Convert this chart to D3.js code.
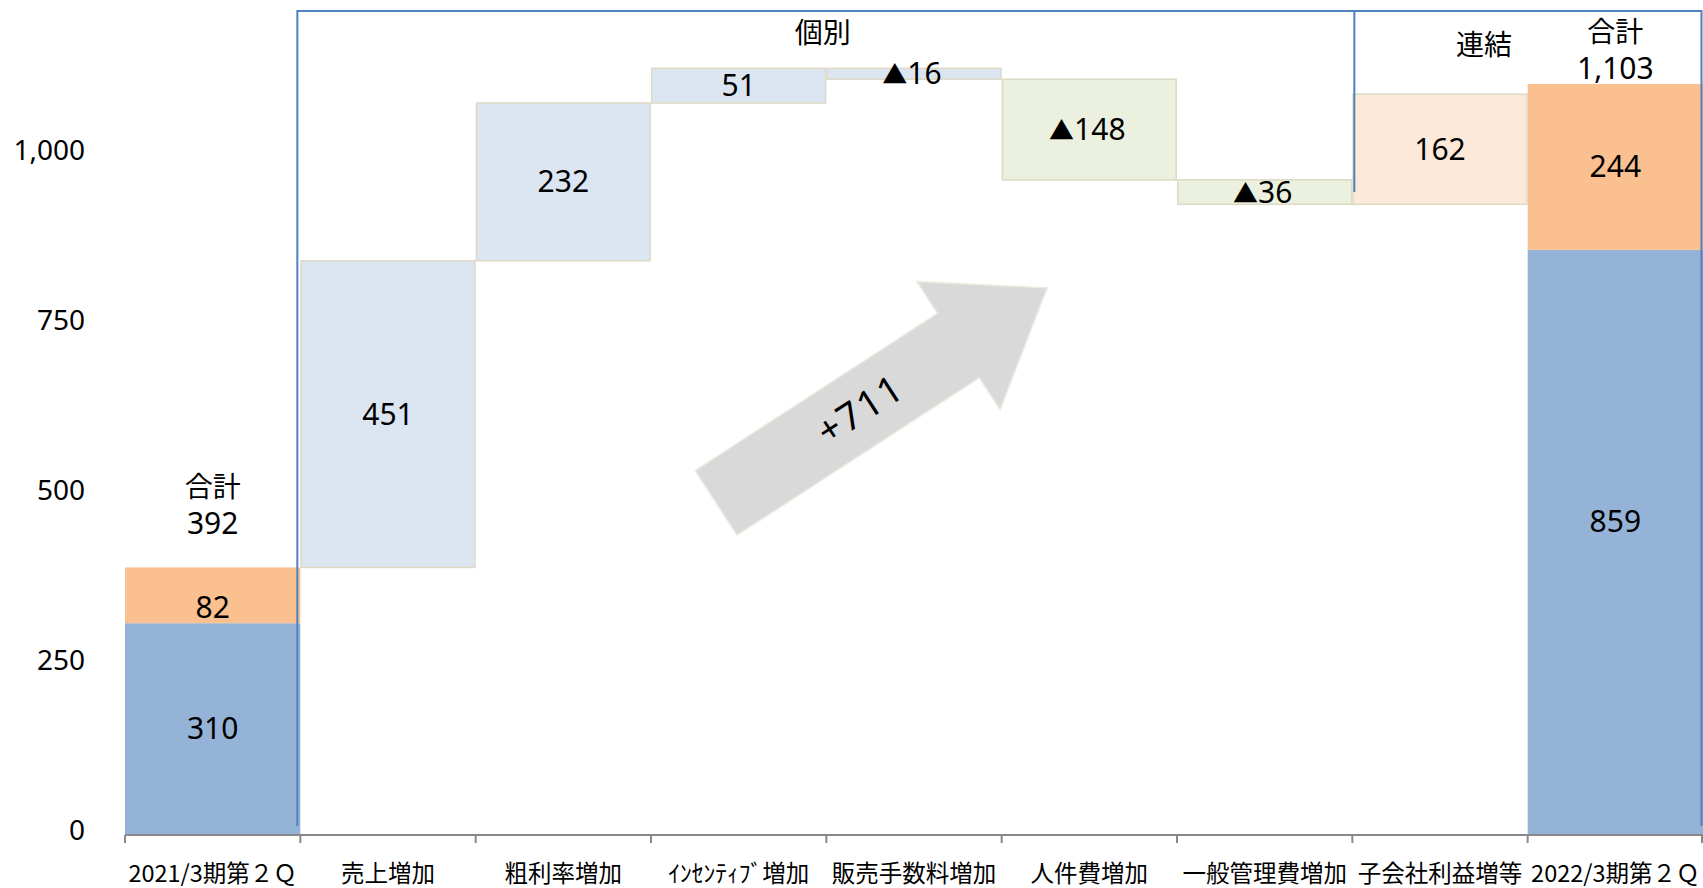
<!DOCTYPE html>
<html lang="ja">
<head>
<meta charset="utf-8">
<script src="https://cdn.jsdelivr.net/npm/d3@7"></script>
<style>
  html, body { margin: 0; padding: 0; background: #fff; }
  svg { display: block; }
  .num { font-family: "Noto Sans", "Noto Sans CJK JP", sans-serif; }
  .jp { font-family: "Noto Sans CJK JP", "Noto Sans", sans-serif; }
</style>
</head>
<body>
<svg id="chart" width="1703" height="888"></svg>
<script>
// Operating profit bridge: 2021/3 2Q -> 2022/3 2Q
const categories = [
  "2021/3期第２Ｑ", "売上増加", "粗利率増加", "ｲﾝｾﾝﾃｨﾌﾞ増加", "販売手数料増加",
  "人件費増加", "一般管理費増加", "子会社利益増等", "2022/3期第２Ｑ"
];
// Total columns: parent-company part and subsidiaries part
const totalCategories = ["2021/3期第２Ｑ", "2022/3期第２Ｑ"];
const parentValues = [310, 859];
const subsidiaryValues = [82, 244];
// Step changes between the two totals
const changeCategories = categories.slice(1, 8);
const changeValues = [451, 232, 51, -16, -148, -36, 162];
// Factor group of each step: gross-profit side, SG&A side, consolidation
const changeGroups = ["gross", "gross", "gross", "gross", "sga", "sga", "consolidated"];
const yTicks = [0, 250, 500, 750, 1000];

const W = 1703, H = 888;
const svg = d3.select("#chart");

const x = d3.scaleBand().domain(categories).range([125, 1703]).padding(0);
const y = d3.scaleLinear().domain([0, 1200]).range([834, 18]);
const bw = x.bandwidth();

const colors = {
  parent: "#95B3D7",
  subsidiary: "#FAC090",
  gross: "#DCE6F2",
  sga: "#EBF1DE",
  consolidated: "#FDE9D9",
  edge: "#DDD9C3",
  frame: "#4F81BD",
  axis: "#898989"
};

// ---- y axis labels (no axis line)
const yAxis = d3.axisLeft(y).tickValues(yTicks).tickFormat(d3.format(",")).tickSize(0).tickPadding(0);
const yG = svg.append("g").attr("transform", "translate(85,0)").call(yAxis);
yG.select(".domain").remove();
yG.selectAll("text")
  .attr("class", "num")
  .attr("font-size", 28)
  .attr("fill", "#000")
  .attr("dy", "0.32em")
  .attr("y", -3);

// ---- total columns (stacked)
const totals = totalCategories.map((c, i) => ({
  cat: c, parent: parentValues[i], sub: subsidiaryValues[i], total: parentValues[i] + subsidiaryValues[i]
}));

const gBars = svg.append("g");
gBars.selectAll("rect.parent").data(totals).join("rect")
  .attr("class", "parent")
  .attr("x", d => x(d.cat)).attr("width", bw)
  .attr("y", d => y(d.parent)).attr("height", d => y(0) - y(d.parent))
  .attr("fill", colors.parent);
gBars.selectAll("rect.sub").data(totals).join("rect")
  .attr("class", "sub")
  .attr("x", d => x(d.cat)).attr("width", bw)
  .attr("y", d => y(d.total)).attr("height", d => y(d.parent) - y(d.total))
  .attr("fill", colors.subsidiary);

// ---- waterfall steps
let running = totals[0].total;
const steps = changeValues.map((v, i) => {
  const from = running;
  running += v;
  return { cat: changeCategories[i], value: v, group: changeGroups[i], lo: Math.min(from, running), hi: Math.max(from, running) };
});

gBars.selectAll("rect.step").data(steps).join("rect")
  .attr("class", "step")
  .attr("x", d => x(d.cat) + 0.75).attr("width", bw - 1.5)
  .attr("y", d => y(d.hi)).attr("height", d => y(d.lo) - y(d.hi))
  .attr("fill", d => colors[d.group])
  .attr("stroke", colors.edge)
  .attr("stroke-width", 1.5);

// ---- x axis
const axisG = svg.append("g");
axisG.append("line")
  .attr("x1", x.range()[0]).attr("x2", x.range()[1])
  .attr("y1", y(0) + 1).attr("y2", y(0) + 1)
  .attr("stroke", colors.axis).attr("stroke-width", 2);
const boundaries = categories.map(c => x(c)).concat([x.range()[1] - 1]);
axisG.selectAll("line.tick").data(boundaries).join("line")
  .attr("class", "tick")
  .attr("x1", d => d).attr("x2", d => d)
  .attr("y1", y(0) + 1).attr("y2", y(0) + 9)
  .attr("stroke", colors.axis).attr("stroke-width", 2);
axisG.selectAll("text").data(categories).join("text")
  .attr("class", "jp")
  .attr("x", d => x(d) + bw / 2)
  .attr("y", 874)
  .attr("dy", "0.36em")
  .attr("text-anchor", "middle")
  .attr("font-size", 23.5)
  .attr("fill", "#000")
  .text(d => d);

// ---- value labels
const fmt = d3.format(",");
const labels = svg.append("g").attr("class", "num").attr("font-size", 30).attr("fill", "#000").attr("text-anchor", "middle");

// segment labels of total columns; small vertical nudges for legibility
const segNudge = { parent: [0, -20], sub: [12, 0] };
totals.forEach((d, i) => {
  labels.append("text")
    .attr("x", x(d.cat) + bw / 2)
    .attr("y", (y(0) + y(d.parent)) / 2 + segNudge.parent[i])
    .attr("dy", "0.35em")
    .text(fmt(d.parent));
  labels.append("text")
    .attr("x", x(d.cat) + bw / 2)
    .attr("y", (y(d.parent) + y(d.total)) / 2 + segNudge.sub[i])
    .attr("dy", "0.35em")
    .text(fmt(d.sub));
});

// step labels (negative steps marked with a triangle)
const stepText = labels.selectAll("text.step").data(steps).join("text")
  .attr("class", "step")
  .attr("x", d => x(d.cat) + bw / 2)
  .attr("y", d => (y(d.lo) + y(d.hi)) / 2)
  .attr("dy", "0.35em");
stepText.filter(d => d.value < 0).append("tspan")
  .attr("font-size", 25).attr("dx", -2).text("▲");
stepText.append("tspan")
  .text(d => fmt(Math.abs(d.value)));

// total captions above columns
const totalGap = [44, 15];
totals.forEach((d, i) => {
  const cx = x(d.cat) + bw / 2;
  const vy = y(d.total) - totalGap[i];
  labels.append("text").attr("class", "jp").attr("font-size", 28)
    .attr("x", cx).attr("y", vy - 36).attr("dy", "0.34em").text("合計");
  labels.append("text")
    .attr("x", cx).attr("y", vy).attr("dy", "0.35em").text(fmt(d.total));
});

// ---- scope frame: 個別 | 連結
const frameTop = 11, frameBottom = 826;
const frameLeft = x(categories[1]) - 3;
const divider = x(categories[7]) + 2;
const frameRight = W - 1.5;
const frame = svg.append("g").attr("fill", "none").attr("stroke", colors.frame).attr("stroke-width", 2);
frame.append("path")
  .attr("d", `M${frameLeft},${frameBottom} V${frameTop} H${frameRight} V${frameBottom}`);
frame.append("line")
  .attr("x1", divider).attr("x2", divider)
  .attr("y1", frameTop).attr("y2", 192);

const scopeText = svg.append("g").attr("class", "jp").attr("font-size", 28).attr("fill", "#000").attr("text-anchor", "middle");
scopeText.append("text").attr("x", (frameLeft + divider) / 2 - 3).attr("y", 33).attr("dy", "0.36em").text("個別");
scopeText.append("text").attr("x", 1484).attr("y", 45).attr("dy", "0.36em").text("連結");

// ---- overall change arrow
const arrow = { cx: 716, cy: 503, angle: -33, shaft: 289, length: 395, shaftW: 77, headW: 153 };
const sw = arrow.shaftW / 2, hw = arrow.headW / 2;
const arrowPts = [[0, -sw], [arrow.shaft, -sw], [arrow.shaft, -hw], [arrow.length, 0], [arrow.shaft, hw], [arrow.shaft, sw], [0, sw]];
const ag = svg.append("g").attr("transform", `translate(${arrow.cx},${arrow.cy}) rotate(${arrow.angle})`);
ag.append("polygon")
  .attr("points", arrowPts.map(p => p.join(",")).join(" "))
  .attr("fill", "#D9D9D9")
  .attr("stroke", "#EEECE1")
  .attr("stroke-width", 1.5);
ag.append("text")
  .attr("class", "num")
  .attr("x", 172).attr("y", 0).attr("dy", "0.35em")
  .attr("text-anchor", "middle")
  .attr("font-size", 38)
  .attr("letter-spacing", 2)
  .attr("fill", "#000")
  .text("+" + fmt(totals[1].total - totals[0].total));
</script>
</body>
</html>
